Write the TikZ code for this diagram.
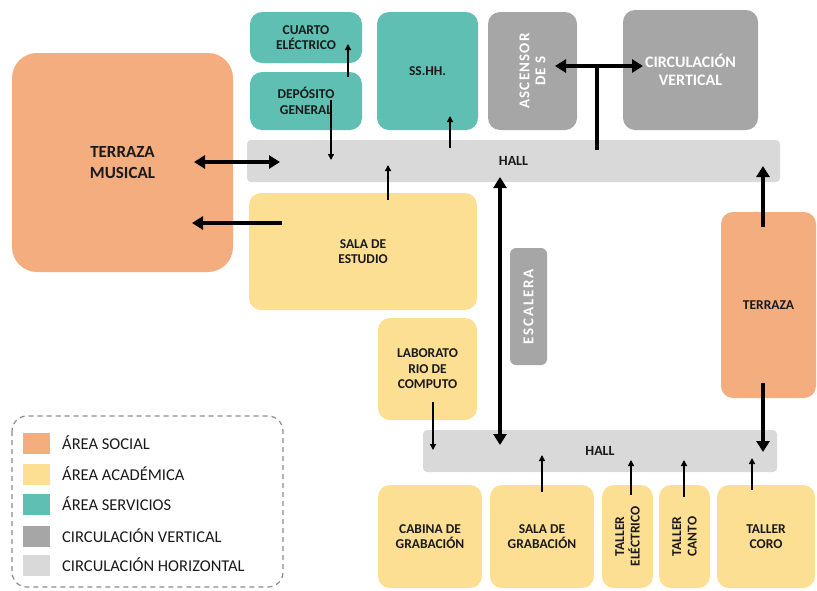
\documentclass[tikz,border=0pt]{standalone}
\usepackage{fontspec}
\setmainfont{Carlito}
\usetikzlibrary{arrows.meta}
\definecolor{social}{HTML}{F4AD7F}
\definecolor{acad}{HTML}{FDDF93}
\definecolor{serv}{HTML}{5FBFB3}
\definecolor{cvert}{HTML}{A6A6A6}
\definecolor{chor}{HTML}{D9D9D9}
\definecolor{txt}{HTML}{1A1A1A}
\definecolor{legline}{HTML}{8C8C8C}
\begin{document}
\begin{tikzpicture}[x=1pt,y=-1pt,
  room/.style={rounded corners=12pt, inner sep=0pt, align=center, text=txt,
    font=\fontsize{13.5}{15.5}\selectfont\bfseries},
  hallbox/.style={room, fill=chor, rounded corners=4pt, font=\fontsize{14}{15}\selectfont\bfseries},
  bigarrow/.style={line width=3.6pt, -{Triangle[length=11pt,width=13pt]}, black},
  bigdouble/.style={line width=3.6pt, {Triangle[length=11pt,width=13pt]}-{Triangle[length=11pt,width=13pt]}, black},
  bigline/.style={line width=3.6pt, black},
  smallarrow/.style={line width=1.3pt, -{Triangle[length=6pt,width=6pt]}, black},
  swatch/.style={inner sep=0pt, minimum width=27pt, minimum height=21pt},
  legtext/.style={anchor=west, inner sep=0pt, text=txt, font=\fontsize{16.5}{18}\selectfont}
]
\useasboundingbox (0,0) rectangle (817,590);

% rooms
\node[room, fill=serv, minimum width=112pt, minimum height=51pt] (cuarto) at (306,37.5) {CUARTO\\ELÉCTRICO};
\node[room, fill=serv, minimum width=112pt, minimum height=58pt] (deposito) at (306,101) {DEPÓSITO\\GENERAL};
\node[room, fill=serv, minimum width=101pt, minimum height=118pt] (sshh) at (427.5,71) {SS.HH.};
\node[room, fill=cvert, minimum width=89pt, minimum height=118pt] (ascensor) at (532.5,71) {};
\node[room, text=white, rotate=90, font=\fontsize{15}{16}\selectfont\bfseries\addfontfeature{LetterSpace=8}] (asctext) at (ascensor.center) {ASCENSOR\\DE S};
\node[room, fill=cvert, text=white, minimum width=135pt, minimum height=120pt, font=\fontsize{16}{18}\selectfont\bfseries] (circv) at (690.5,70) {CIRCULACIÓN\\VERTICAL};
\node[hallbox, minimum width=533pt, minimum height=42pt] (hall1) at (513.5,161) {HALL};
\node[room, fill=social, rounded corners=25pt, minimum width=221pt, minimum height=219pt, font=\fontsize{17}{21}\selectfont\bfseries] (tmusical) at (122.5,162.5) {TERRAZA\\MUSICAL};
\node[room, fill=acad, minimum width=228pt, minimum height=117pt] (estudio) at (363,251.5) {SALA DE\\ESTUDIO};
\node[room, fill=cvert, rounded corners=6pt, minimum width=37pt, minimum height=117pt] (escalera) at (528.5,306.5) {};
\node[room, text=white, rotate=90, font=\fontsize{15}{16}\selectfont\bfseries\addfontfeature{LetterSpace=12}] (esctext) at (escalera.center) {ESCALERA};
\node[room, fill=acad, minimum width=99pt, minimum height=102pt] (lab) at (427.5,369) {LABORATO\\RIO DE\\COMPUTO};
\node[room, fill=social, minimum width=95pt, minimum height=186pt] (terraza) at (768.5,305) {TERRAZA};
\node[hallbox, minimum width=354pt, minimum height=42pt] (hall2) at (600,451) {HALL};
\node[room, fill=acad, minimum width=104pt, minimum height=103pt] (cabina) at (430,536.5) {CABINA DE\\GRABACIÓN};
\node[room, fill=acad, minimum width=104pt, minimum height=103pt] (salagrab) at (542,536.5) {SALA DE\\GRABACIÓN};
\node[room, fill=acad, minimum width=51pt, minimum height=103pt] (telec) at (627.5,536.5) {};
\node[room, rotate=90] (telectext) at (telec.center) {TALLER\\ELÉCTRICO};
\node[room, fill=acad, minimum width=51pt, minimum height=103pt] (tcanto) at (684.5,536.5) {};
\node[room, rotate=90] (tcantotext) at (tcanto.center) {TALLER\\CANTO};
\node[room, fill=acad, minimum width=98pt, minimum height=103pt] (tcoro) at (766,536.5) {TALLER\\CORO};

% arrow end points
\coordinate (tmA) at (194,162);
\coordinate (h1A) at (280,162);
\coordinate (esA) at (282,223);
\coordinate (tmB) at (192,223);
\coordinate (h1B) at (597,150);
\coordinate (jn) at (597,66);
\coordinate (ascA) at (555,66);
\coordinate (cvA) at (643,66);
\coordinate (h1C) at (500,177);
\coordinate (h2C) at (500,445);
\coordinate (teA) at (763,227);
\coordinate (h1D) at (763,166);
\coordinate (teB) at (763,383);
\coordinate (h2D) at (763,452);
\coordinate (depA) at (331,100);
\coordinate (h1E) at (331,160);
\coordinate (depB) at (348,77);
\coordinate (cuA) at (348,44);
\coordinate (h1F) at (450,148);
\coordinate (shA) at (450,116);
\coordinate (esB) at (388,200);
\coordinate (h1G) at (388,165);
\coordinate (labA) at (433,402);
\coordinate (h2E) at (433,450);
\coordinate (sgA) at (542,492);
\coordinate (h2F) at (542,455);
\coordinate (teA2) at (631,495);
\coordinate (h2G) at (631,460);
\coordinate (tcA) at (684,497);
\coordinate (h2H) at (684,460);
\coordinate (tkA) at (752,490);
\coordinate (h2I) at (752,458);

% thick connectors
\draw[bigdouble] (tmA) -- (h1A);
\draw[bigarrow] (esA) -- (tmB);
\draw[bigline] (h1B) -- (jn);
\draw[bigdouble] (ascA) -- (cvA);
\draw[bigdouble] (h1C) -- (h2C);
\draw[bigarrow] (teA) -- (h1D);
\draw[bigarrow] (teB) -- (h2D);

% thin connectors
\draw[smallarrow] (depA) -- (h1E);
\draw[smallarrow] (depB) -- (cuA);
\draw[smallarrow] (h1F) -- (shA);
\draw[smallarrow] (esB) -- (h1G);
\draw[smallarrow] (labA) -- (h2E);
\draw[smallarrow] (sgA) -- (h2F);
\draw[smallarrow] (teA2) -- (h2G);
\draw[smallarrow] (tcA) -- (h2H);
\draw[smallarrow] (tkA) -- (h2I);

% legend
\draw[legline, line width=1.2pt, dash pattern=on 5pt off 4pt, rounded corners=15pt] (12,416) rectangle (283,587);
\node[swatch, fill=social] (sw1) at (36.5,443) {};
\node[swatch, fill=acad] (sw2) at (36.5,474) {};
\node[swatch, fill=serv] (sw3) at (36.5,504) {};
\node[swatch, fill=cvert] (sw4) at (36.5,536) {};
\node[swatch, fill=chor] (sw5) at (36.5,565) {};
\node[legtext] (l1) at (62,443) {ÁREA SOCIAL};
\node[legtext] (l2) at (62,474) {ÁREA ACADÉMICA};
\node[legtext] (l3) at (62,504) {ÁREA SERVICIOS};
\node[legtext] (l4) at (62,536) {CIRCULACIÓN VERTICAL};
\node[legtext] (l5) at (62,565) {CIRCULACIÓN HORIZONTAL};
\end{tikzpicture}
\end{document}
